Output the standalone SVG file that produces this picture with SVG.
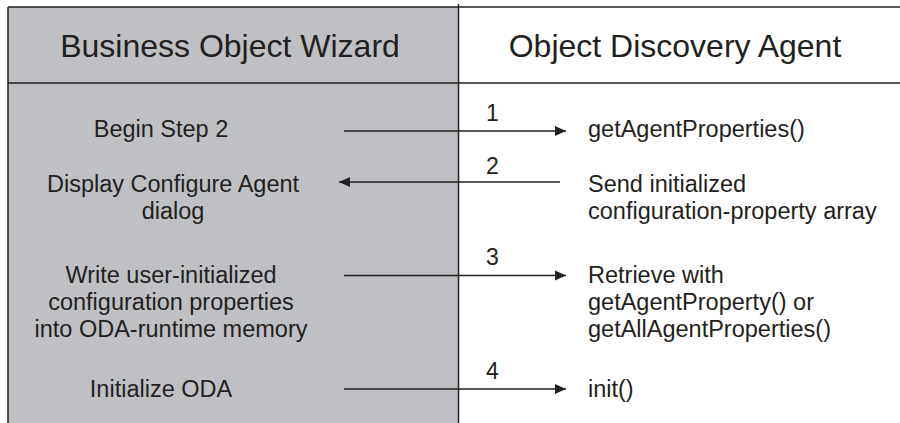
<svg xmlns="http://www.w3.org/2000/svg" width="900" height="423" viewBox="0 0 900 423">
  <style>
    text { font-family: "Liberation Sans", Arial, Helvetica, sans-serif; fill: #231f20; }
    .hdr { font-size: 32px; text-anchor: middle; }
    .lbl { font-size: 23.5px; }
    .mid { text-anchor: middle; }
    .num { font-size: 23px; text-anchor: middle; }
    .frame { stroke: #231f20; stroke-width: 1.5; fill: none; }
    .conn line { stroke: #231f20; stroke-width: 1.4; }
  </style>
  <defs>
    <marker id="ah" markerWidth="12" markerHeight="12" viewBox="0 0 12 12" refX="11" refY="6" orient="auto" markerUnits="userSpaceOnUse">
      <path d="M0,1 L11,6 L0,11 Z" fill="#231f20"/>
    </marker>
  </defs>

  <rect x="0" y="0" width="900" height="423" fill="#ffffff"/>

  <g id="wizard-lane">
    <rect x="8" y="7" width="450.5" height="416" fill="#bfc0c4"/>
    <text class="hdr" x="230" y="57">Business Object Wizard</text>
  </g>

  <g id="oda-lane">
    <text class="hdr" x="675" y="57">Object Discovery Agent</text>
  </g>

  <g id="frame">
    <line class="frame" x1="8" y1="7" x2="900" y2="7"/>
    <line class="frame" x1="8" y1="83" x2="900" y2="83"/>
    <line class="frame" x1="8" y1="7" x2="8" y2="423"/>
    <line class="frame" x1="458.5" y1="4" x2="458.5" y2="423"/>
  </g>

  <g id="step-begin">
    <text class="lbl mid" x="161" y="137">Begin Step 2</text>
  </g>
  <g id="step-display">
    <text class="lbl mid" x="173" y="192">Display Configure Agent</text>
    <text class="lbl mid" x="173" y="218.5">dialog</text>
  </g>
  <g id="step-write">
    <text class="lbl mid" x="171" y="282.5">Write user-initialized</text>
    <text class="lbl mid" x="171" y="309.5">configuration properties</text>
    <text class="lbl mid" x="171" y="336.5">into ODA-runtime memory</text>
  </g>
  <g id="step-init">
    <text class="lbl mid" x="161" y="397">Initialize ODA</text>
  </g>

  <g id="oda-getprops">
    <text class="lbl" x="588" y="137">getAgentProperties()</text>
  </g>
  <g id="oda-send">
    <text class="lbl" x="588" y="192">Send initialized</text>
    <text class="lbl" x="588" y="218.5">configuration-property array</text>
  </g>
  <g id="oda-retrieve">
    <text class="lbl" x="588" y="282.5">Retrieve with</text>
    <text class="lbl" x="588" y="309.5">getAgentProperty() or</text>
    <text class="lbl" x="588" y="336.5">getAllAgentProperties()</text>
  </g>
  <g id="oda-init">
    <text class="lbl" x="588" y="397">init()</text>
  </g>

  <g id="connectors" class="conn">
    <line x1="344" y1="131" x2="566" y2="131" marker-end="url(#ah)"/>
    <line x1="560" y1="182" x2="339" y2="182" marker-end="url(#ah)"/>
    <line x1="344" y1="275.5" x2="566" y2="275.5" marker-end="url(#ah)"/>
    <line x1="344" y1="389" x2="566" y2="389" marker-end="url(#ah)"/>
    <text class="num" x="492.5" y="121">1</text>
    <text class="num" x="492.5" y="173.5">2</text>
    <text class="num" x="492.5" y="265">3</text>
    <text class="num" x="492.5" y="378.5">4</text>
  </g>
</svg>
